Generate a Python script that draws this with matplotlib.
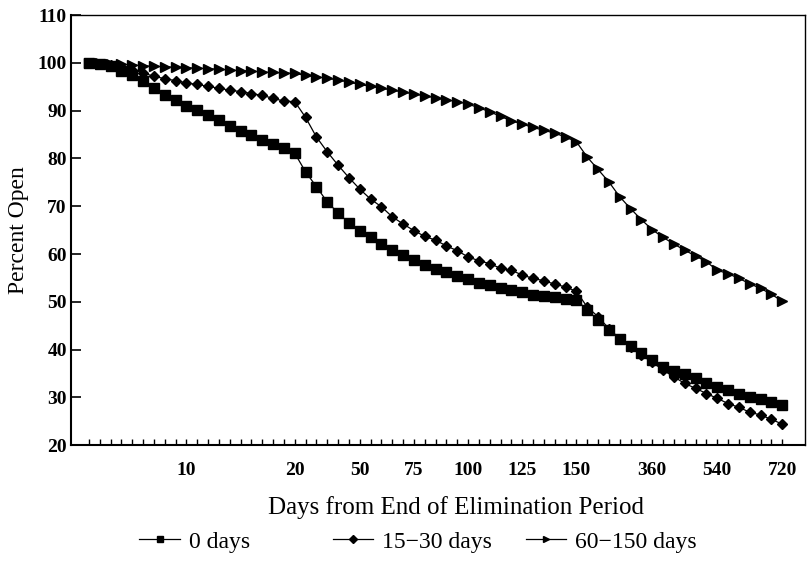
import numpy as np
import matplotlib
matplotlib.use("Agg")
import matplotlib.pyplot as plt
from matplotlib.lines import Line2D

# days at each sample: daily to 20, every 5 to 150, every 30 to 720
days = list(range(1, 21)) + list(range(25, 151, 5)) + list(range(180, 721, 30))

open_0 = [100.0, 99.7, 99.3, 98.4, 97.4, 96.2, 94.7, 93.3, 92.2, 91.0,
          90.2, 89.1, 88.0, 86.8, 85.8, 84.9, 83.8, 83.0, 82.1, 81.1,
          77.2, 74.1, 70.9, 68.6, 66.5, 64.8, 63.5, 62.2, 60.8, 59.9,
          58.7, 57.7, 56.8, 56.3, 55.4, 54.7, 54.0, 53.5, 52.9, 52.4,
          52.0, 51.5, 51.2, 50.9, 50.6, 50.4,
          48.3, 46.2, 44.1, 42.3, 40.7, 39.2, 37.8, 36.4, 35.6, 34.9,
          34.0, 32.9, 32.2, 31.5, 30.7, 30.1, 29.6, 29.1, 28.4]
open_15_30 = [100.0, 99.8, 99.5, 99.2, 98.6, 97.9, 97.2, 96.7, 96.3, 95.8,
              95.5, 95.1, 94.7, 94.3, 94.0, 93.6, 93.2, 92.6, 92.0, 91.9,
              88.6, 84.5, 81.4, 78.6, 76.0, 73.6, 71.5, 69.9, 67.8, 66.3,
              64.9, 63.7, 62.9, 61.7, 60.7, 59.4, 58.6, 58.0, 57.0, 56.6,
              55.6, 54.9, 54.4, 53.7, 53.1, 52.2,
              48.9, 46.9, 44.4, 42.3, 40.6, 38.8, 37.4, 35.7, 34.3, 32.9,
              31.9, 30.8, 29.8, 28.7, 27.9, 26.9, 26.3, 25.4, 24.4]
open_60_150 = [100.0, 99.9, 99.7, 99.7, 99.6, 99.4, 99.3, 99.2, 99.1, 99.0,
               98.9, 98.8, 98.7, 98.5, 98.4, 98.3, 98.1, 98.0, 97.9, 97.8,
               97.4, 97.1, 96.8, 96.4, 96.0, 95.5, 95.1, 94.7, 94.3, 93.9,
               93.5, 93.1, 92.7, 92.3, 91.9, 91.4, 90.6, 89.8, 88.8, 87.9,
               87.2, 86.5, 85.9, 85.3, 84.5, 83.5,
               80.3, 77.7, 75.1, 72.0, 69.5, 67.2, 65.1, 63.5, 62.1, 60.8,
               59.6, 58.4, 56.6, 55.9, 54.9, 53.8, 52.8, 51.6, 50.1]

tick_days = [10, 20, 50, 75, 100, 125, 150, 360, 540, 720]
series_labels = ["0 days", "15\u221230 days", "60\u2212150 days"]
markers = ["s", "D", ">"]

plt.rcParams["font.family"] = ["Liberation Serif", "DejaVu Serif"]

fig = plt.figure(figsize=(8.11, 5.62), dpi=100)
ax = fig.add_axes([0.0875, 0.208, 0.905, 0.765])

idx = np.arange(len(days))
for ys, m in zip([open_0, open_15_30, open_60_150], markers):
    ms = 5.5 if m == "D" else 6.5
    ax.plot(idx, ys, color="black", lw=0.9, marker=m, ms=ms,
            mfc="black", mec="black")

ax.set_xlim(-1.66, 66.1)
ax.set_ylim(20, 110)
ax.set_yticks(range(20, 111, 10))
ax.set_xticks([days.index(d) for d in tick_days])
ax.set_xticklabels([str(d) for d in tick_days])
ax.set_xticks(idx, minor=True)

ax.tick_params(axis="y", direction="in", length=7, width=1.2, pad=3,
               labelsize=14)
ax.tick_params(axis="x", which="both", direction="in", length=4, width=1.0,
               pad=12, labelsize=14)
for lab in ax.get_xticklabels() + ax.get_yticklabels():
    lab.set_fontweight("bold")

for s in ["left", "bottom"]:
    ax.spines[s].set_linewidth(1.5)
for s in ["top", "right"]:
    ax.spines[s].set_linewidth(1.0)

ax.set_ylabel("Percent Open", fontsize=17, labelpad=6)
ax.set_xlabel("Days from End of Elimination Period", fontsize=18)
ax.xaxis.set_label_coords(0.524, -0.118)

# legend row, one entry per series
leg_x = [0.172, 0.41, 0.648]
for lab, m, x in zip(series_labels, markers, leg_x):
    h = Line2D([], [], color="black", lw=0.9, marker=m,
               ms=4 if m == "D" else 5, mfc="black")
    fig.legend([h], [lab], loc="center left", bbox_to_anchor=(x, 0.036),
               frameon=False, fontsize=17, handlelength=1.7,
               handletextpad=0.4, borderpad=0, borderaxespad=0)

fig.savefig("out.png", dpi=100)
